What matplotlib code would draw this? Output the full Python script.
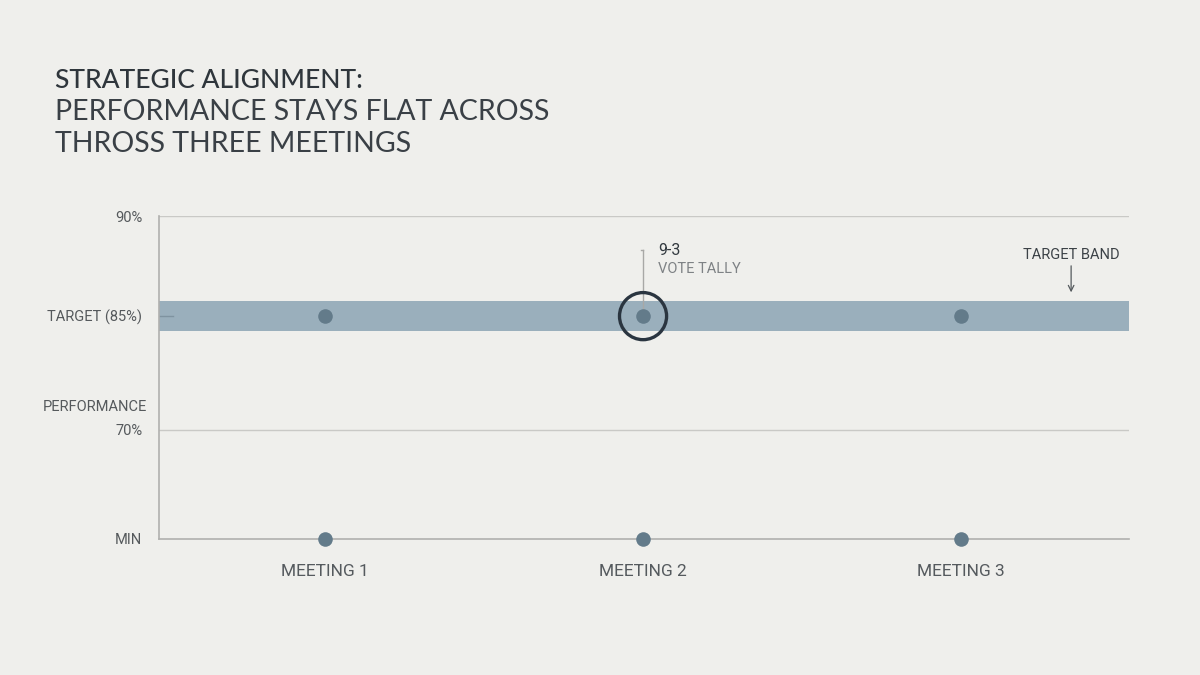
import numpy as np
import matplotlib
matplotlib.use("Agg")
import matplotlib.pyplot as plt
import matplotlib.transforms as mtransforms

# ---- data ----
meetings = ["MEETING 1", "MEETING 2", "MEETING 3"]
performance = [85, 85, 85]
min_level = 55
target = 85
band_low, band_high = 83.0, 85.75
ytick_values = [55, 70, 85, 90]
ytick_labels = ["MIN", "70%", "TARGET (85%)", "90%"]
highlight_index = 1
vote_tally = "9-3"

# piecewise display scale (the reference axis is not linear)
anchors_v = np.array([55, 70, 85, 90])
anchors_p = np.array([0.0, 0.3375, 0.690, 1.0])
ext_v = np.concatenate([[anchors_v[0] - 1000], anchors_v, [anchors_v[-1] + 1000]])
s0 = (anchors_p[1] - anchors_p[0]) / (anchors_v[1] - anchors_v[0])
s1 = (anchors_p[-1] - anchors_p[-2]) / (anchors_v[-1] - anchors_v[-2])
ext_p = np.concatenate([[anchors_p[0] - 1000 * s0], anchors_p, [anchors_p[-1] + 1000 * s1]])

def fwd(v):
    return np.interp(v, ext_v, ext_p)

def inv(p):
    return np.interp(p, ext_p, ext_v)

BG = "#efefec"
plt.rcParams["font.family"] = ["Roboto", "DejaVu Sans"]

fig = plt.figure(figsize=(12, 6.75), dpi=100, facecolor=BG)
ax = fig.add_axes([159 / 1200, 1 - 539 / 675, (1129 - 159) / 1200, (539 - 216) / 675])
ax.set_facecolor(BG)
ax.set_yscale("function", functions=(fwd, inv))

x = np.arange(1, len(meetings) + 1)
ax.set_xlim(0.478, 3.528)
ax.set_ylim(min_level, 90)

# target band
ax.axhspan(band_low, band_high, color="#9aafbc", zorder=1, lw=0)

# grid lines
for gv in [90, 70]:
    ax.axhline(gv, color="#c9c9c6", lw=1.0, zorder=0.5)

# small target dash at left
trans = mtransforms.blended_transform_factory(ax.transAxes, ax.transData)
ax.plot([0.0, 0.014], [target, target], transform=trans, color="#7f93a0", lw=1.0, zorder=2)

# spines
for s in ["top", "right"]:
    ax.spines[s].set_visible(False)
for s in ["left", "bottom"]:
    ax.spines[s].set_color("#b0b0ae")
    ax.spines[s].set_linewidth(1.2)

# points
ax.scatter(x, performance, s=110, color="#637b8a", zorder=3, lw=0)
ax.scatter(x, [min_level] * len(x), s=110, color="#637b8a", zorder=4, lw=0, clip_on=False)

# highlight circle
ax.scatter([x[highlight_index]], [performance[highlight_index]], s=1150, facecolor="none",
           edgecolor="#2a3540", lw=2.4, zorder=5)

# annotation line and text
ann_top = 88.3
xh = x[highlight_index]
ax.plot([xh, xh], [performance[highlight_index], ann_top], color="#a8a8a6", lw=1.0, zorder=2)
ax.plot([xh - 0.008, xh], [ann_top, ann_top], color="#a8a8a6", lw=1.0, zorder=2)
ax.annotate(vote_tally, xy=(xh, ann_top), xytext=(15, 0),
            textcoords="offset pixels", ha="left", va="center", fontsize=11.5, color="#333a40")
ax.annotate("VOTE TALLY", xy=(xh, ann_top), xytext=(15, -19),
            textcoords="offset pixels", ha="left", va="center", fontsize=10.5, color="#7e8285")

# target band label
ax.annotate("", xy=(3.346, 86.05), xytext=(3.346, 87.65),
            arrowprops=dict(arrowstyle="->", color="#555a5e", lw=0.9))
ax.text(3.346, 88.05, "TARGET BAND", ha="center", va="center", fontsize=10.5, color="#3c4247")

# ticks
ax.set_xticks(x)
ax.set_xticklabels(meetings, fontsize=12.5, color="#555a5e")
ax.tick_params(axis="x", length=0, pad=18)
ax.set_yticks(ytick_values)
ax.set_yticklabels(ytick_labels, fontsize=10.5, color="#55595c")
ax.tick_params(axis="y", length=0, pad=12)
ax.yaxis.set_minor_locator(matplotlib.ticker.NullLocator())

fig.text(147 / 1200, 1 - 407 / 675, "PERFORMANCE", ha="right", va="center", fontsize=10.5, color="#55595c")

# title
tf = ["Lato", "DejaVu Sans"]
fig.text(55 / 1200, 1 - 80 / 675, "STRATEGIC ALIGNMENT:", ha="left", va="center",
         fontsize=19, color="#2f363c", family=tf, fontweight="medium")
fig.text(55 / 1200, 1 - 112 / 675, "PERFORMANCE STAYS FLAT ACROSS", ha="left", va="center",
         fontsize=20.5, color="#3a4046", family=tf, fontweight="normal")
fig.text(55 / 1200, 1 - 144 / 675, "THROSS THREE MEETINGS", ha="left", va="center",
         fontsize=20.5, color="#3a4046", family=tf, fontweight="normal")

fig.savefig("out.png", dpi=100, facecolor=BG)
